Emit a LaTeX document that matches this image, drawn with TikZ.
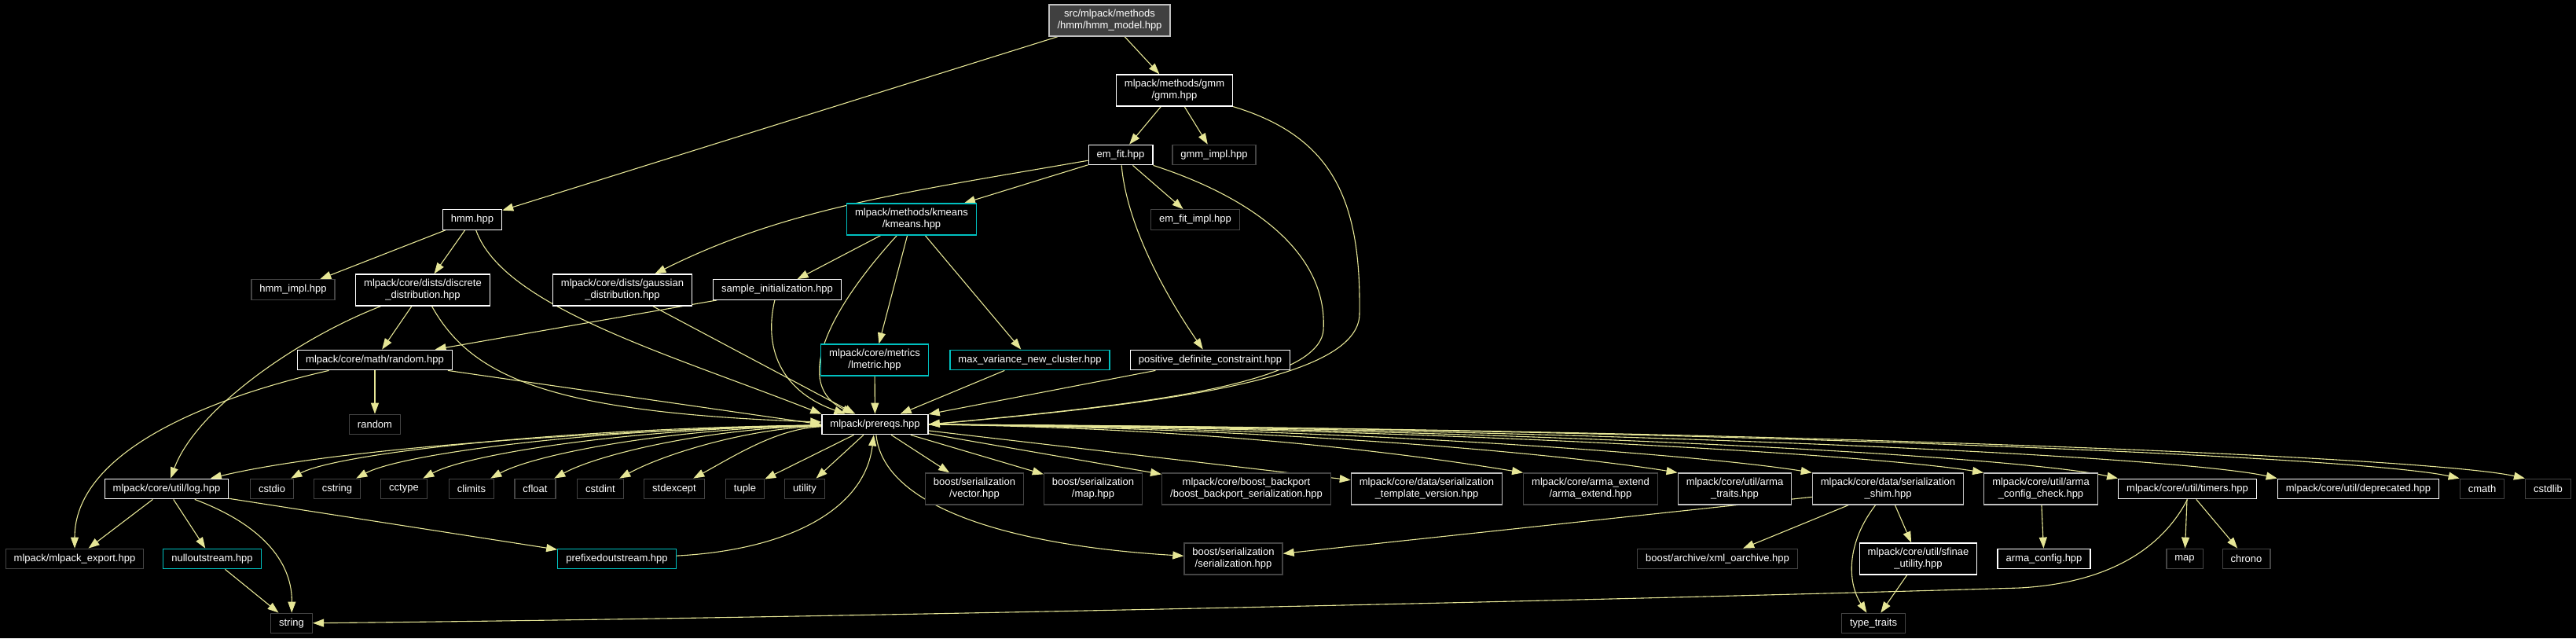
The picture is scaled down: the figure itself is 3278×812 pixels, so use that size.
\documentclass[tikz,border=0pt]{standalone}
\usepackage{fontspec}
\setmainfont{Liberation Sans}
\usetikzlibrary{arrows.meta,backgrounds}
\definecolor{dxedge}{HTML}{E6E696}
\definecolor{dxcyan}{HTML}{00C0C0}
\definecolor{dxdark}{HTML}{444444}
\definecolor{dxlight}{HTML}{BFBFBF}
\definecolor{dxtop}{HTML}{404040}

\begin{document}
\begin{tikzpicture}[
  x=1pt, y=1pt,
  font=\fontsize{13}{15}\selectfont,
  hdr/.style={draw, line width=1.3pt, text=white, fill=black, inner xsep=10.5pt, inner ysep=0pt, minimum height=25.5pt, align=center},
  hdrdoc/.style={hdr, draw=white},
  hdrext/.style={hdr, draw=dxdark},
  hdrcyan/.style={hdr, draw=dxcyan},
  hdrgray/.style={hdr, draw=dxlight},
  hdrtop/.style={hdr, draw=dxlight, fill=dxtop},
  twoline/.style={minimum height=40pt},
  dep/.style={draw=dxedge, line width=1.1pt, -{Triangle[length=14pt,width=10pt]}},
]
% page is 3278 x 812, y runs downward as negative values
\useasboundingbox (0,0) rectangle (3278,-812);

% top of the graph
\node[hdrtop, twoline] (model) at (1412,-26) {src/mlpack/methods\\/hmm/hmm\_model.hpp};
\node[hdrdoc, twoline] (gmm) at (1494.5,-115) {mlpack/methods/gmm\\/gmm.hpp};
\node[hdrdoc] (emfit) at (1426,-197) {em\_fit.hpp};
\node[hdrext] (gmmimpl) at (1545,-197) {gmm\_impl.hpp};
\node[hdrdoc] (hmm) at (601,-279.5) {hmm.hpp};
\node[hdrcyan, twoline] (kmeans) at (1160,-279) {mlpack/methods/kmeans\\/kmeans.hpp};
\node[hdrext] (emfitimpl) at (1521,-279.5) {em\_fit\_impl.hpp};

% distributions row
\node[hdrext] (hmmimpl) at (373,-368.5) {hmm\_impl.hpp};
\node[hdrdoc, twoline] (discrete) at (538,-369) {mlpack/core/dists/discrete\\\_distribution.hpp};
\node[hdrdoc, twoline] (gaussian) at (792,-369) {mlpack/core/dists/gaussian\\\_distribution.hpp};
\node[hdrdoc] (sampleinit) at (989,-368.5) {sample\_initialization.hpp};

\node[hdrdoc] (randomhpp) at (477,-458) {mlpack/core/math/random.hpp};
\node[hdrcyan, twoline] (lmetric) at (1113,-458) {mlpack/core/metrics\\/lmetric.hpp};
\node[hdrcyan] (maxvar) at (1310.5,-458) {max\_variance\_new\_cluster.hpp};
\node[hdrdoc] (posdef) at (1540,-458) {positive\_definite\_constraint.hpp};

\node[hdrext] (random) at (477,-540) {random};
\node[hdrdoc] (prereqs) at (1113.5,-540) {mlpack/prereqs.hpp};

% everything prereqs.hpp pulls in
\node[hdrdoc] (log) at (212,-622) {mlpack/core/util/log.hpp};
\foreach \n/\x in {cstdio/346, cstring/429, cctype/514, climits/600, cfloat/681,
                   cstdint/764, stdexcept/858, tuple/948, utility/1024, cmath/3158.5, cstdlib/3242.5}
  \node[hdrext] (\n) at (\x,-622) {\n};
\node[hdrext, twoline] (bvector) at (1240,-622) {boost/serialization\\/vector.hpp};
\node[hdrext, twoline] (bmap) at (1391,-622) {boost/serialization\\/map.hpp};
\node[hdrext, twoline] (backport) at (1586,-622) {mlpack/core/boost\_backport\\/boost\_backport\_serialization.hpp};
\node[hdrgray, twoline] (tversion) at (1815.5,-622) {mlpack/core/data/serialization\\\_template\_version.hpp};
\node[hdrext, twoline] (armaext) at (2024,-622) {mlpack/core/arma\_extend\\/arma\_extend.hpp};
\node[hdrgray, twoline] (armatraits) at (2207.5,-622) {mlpack/core/util/arma\\\_traits.hpp};
\node[hdrgray, twoline] (shim) at (2402.5,-622) {mlpack/core/data/serialization\\\_shim.hpp};
\node[hdrgray, twoline] (configcheck) at (2597,-622) {mlpack/core/util/arma\\\_config\_check.hpp};
\node[hdrdoc] (timers) at (2783.5,-622) {mlpack/core/util/timers.hpp};
\node[hdrdoc] (deprecated) at (3001,-622) {mlpack/core/util/deprecated.hpp};

\node[hdrext] (export) at (95,-711) {mlpack/mlpack\_export.hpp};
\node[hdrcyan] (nullout) at (270,-711) {nulloutstream.hpp};
\node[hdrcyan] (prefixed) at (785,-711) {prefixedoutstream.hpp};
\node[hdrext, twoline] (bser) at (1569.5,-711) {boost/serialization\\/serialization.hpp};
\node[hdrext] (xml) at (2185.5,-711) {boost/archive/xml\_oarchive.hpp};
\node[hdrdoc, twoline] (sfinae) at (2441,-711) {mlpack/core/util/sfinae\\\_utility.hpp};
\node[hdrdoc] (armaconfig) at (2601,-711) {arma\_config.hpp};
\node[hdrext] (map) at (2780,-711) {map};
\node[hdrext] (chrono) at (2858.5,-711) {chrono};

\node[hdrext] (string) at (371,-793) {string};
\node[hdrext] (typetraits) at (2384,-793) {type\_traits};

\begin{scope}[on background layer]
\fill[black] (0,0) rectangle (3278,-812);

% upper edges
\draw[dep] (model) -- (hmm);
\draw[dep] (model) -- (gmm);
\draw[dep] (gmm) -- (emfit);
\draw[dep] (gmm) -- (gmmimpl);
\draw[dep] (gmm.south east) .. controls (1700,-175) and (1732,-260) .. (1730,-400)
  .. controls (1728,-480) and (1500,-512) .. (prereqs.east);
\draw[dep] (emfit) .. controls (1150,-245) and (1000,-265) .. (gaussian);
\draw[dep] (emfit) -- (kmeans);
\draw[dep] (emfit) -- (emfitimpl);
\draw[dep] (emfit) .. controls (1435,-300) and (1500,-400) .. (posdef);
\draw[dep] (emfit.south east) .. controls (1590,-250) and (1690,-320) .. (1684,-420)
  .. controls (1678,-490) and (1450,-515) .. (prereqs.east);
\draw[dep] (hmm) -- (hmmimpl);
\draw[dep] (hmm) -- (discrete);
\draw[dep] (hmm) .. controls (640,-390) and (850,-450) .. (prereqs.north west);
\draw[dep] (discrete) -- (randomhpp);
\draw[dep] (discrete) .. controls (380,-430) and (250,-520) .. (log);
\draw[dep] (discrete) .. controls (600,-480) and (700,-525) .. ([yshift=3pt]prereqs.west);
\draw[dep] (gaussian) -- (prereqs);
\draw[dep] (sampleinit) -- (randomhpp);
\draw[dep] (sampleinit) .. controls (970,-450) and (1000,-500) .. (prereqs);
\draw[dep] (kmeans) -- (sampleinit);
\draw[dep] (kmeans) -- (lmetric);
\draw[dep] (kmeans) -- (maxvar);
\draw[dep] (kmeans) .. controls (1050,-400) and (1010,-490) .. (prereqs);
\draw[dep] (lmetric) -- (prereqs);
\draw[dep] (maxvar) -- (prereqs);
\draw[dep] (posdef) -- (prereqs);
\draw[dep] (randomhpp) -- (random);
\draw[dep] (randomhpp) -- (prereqs.west);
\draw[dep] (randomhpp) .. controls (250,-510) and (95,-580) .. (export);

% prereqs.hpp fan-out
\draw[dep] (prereqs) .. controls (850,-545) and (450,-565) .. (log);
\foreach \t/\ca/\cb in {cstdio/700/426, cstring/750/509, cctype/800/594, climits/850/680,
                        cfloat/900/761, cstdint/950/844, stdexcept/990/938}
  \draw[dep] (prereqs) .. controls (\ca,-545) and (\cb,-578) .. (\t);
\foreach \t in {tuple, utility, bvector, bmap, backport, tversion}
  \draw[dep] (prereqs) -- (\t);
\foreach \t/\ca/\cb in {armaext/1560/1808, armatraits/1658/2004, shim/1743/2175,
                        configcheck/1853/2394, timers/1938/2564, deprecated/2040/2768,
                        cmath/2155/2999, cstdlib/2197/3083}
  \draw[dep] (prereqs.east) .. controls (\ca,-545) and (\cb,-580) .. (\t.north west);
\draw[dep] (prereqs) .. controls (1125,-650) and (1300,-695) .. (bser);
\draw[dep] (prefixed) .. controls (1000,-700) and (1100,-650) .. (prereqs);

% lower edges
\draw[dep] (log) -- (export);
\draw[dep] (log) -- (nullout);
\draw[dep] (log) -- (prefixed);
\draw[dep] (log) .. controls (340,-670) and (372,-720) .. (string);
\draw[dep] (nullout) -- (string);
\draw[dep] (shim) -- (bser);
\draw[dep] (shim) -- (xml);
\draw[dep] (shim) -- (sfinae);
\draw[dep] (shim) .. controls (2350,-690) and (2350,-740) .. (typetraits);
\draw[dep] (sfinae) -- (typetraits);
\draw[dep] (configcheck) -- (armaconfig);
\draw[dep] (timers) -- (map);
\draw[dep] (timers) -- (chrono);
\draw[dep] (timers.south) .. controls (2750,-700) and (2680,-742) .. (2570,-748)
  .. controls (2000,-765) and (1000,-787) .. (string);
\end{scope}
\end{tikzpicture}
\end{document}
